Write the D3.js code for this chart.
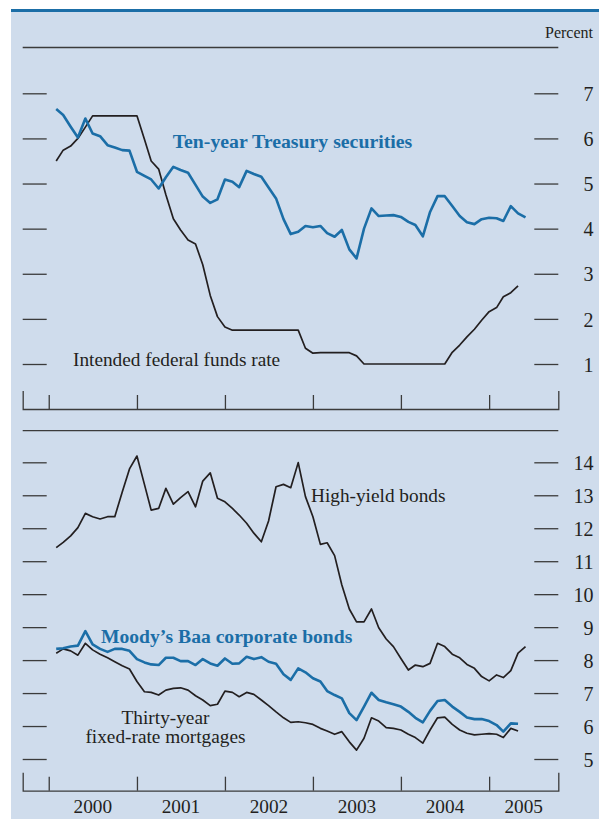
<!DOCTYPE html>
<html>
<head>
<meta charset="utf-8">
<script src="https://cdn.jsdelivr.net/npm/d3@7"></script>
<style>
  html, body { margin: 0; padding: 0; background: #fff; }
  svg { display: block; }
</style>
</head>
<body>
<div id="chart"></div>
<script>
// monthly averages, first value = Jan 2000, plotted at month end
const years = [2000, 2001, 2002, 2003, 2004, 2005];
const topTicks = [1, 2, 3, 4, 5, 6, 7];
const bottomTicks = [5, 6, 7, 8, 9, 10, 11, 12, 13, 14];

const treasury = [
  6.65, 6.52, 6.26, 6.02, 6.44, 6.11, 6.05, 5.85, 5.80, 5.74, 5.73, 5.26,
  5.17, 5.09, 4.89, 5.14, 5.37, 5.30, 5.24, 4.97, 4.71, 4.57, 4.65, 5.09,
  5.04, 4.92, 5.28, 5.21, 5.15, 4.91, 4.67, 4.21, 3.88, 3.93, 4.06, 4.03,
  4.06, 3.90, 3.82, 3.97, 3.54, 3.34, 4.00, 4.45, 4.28, 4.29, 4.30, 4.26,
  4.15, 4.08, 3.83, 4.37, 4.72, 4.72, 4.50, 4.28, 4.14, 4.10, 4.21, 4.24,
  4.23, 4.17, 4.50, 4.34, 4.25
];
const fedFunds = [
  5.50, 5.74, 5.83, 6.00, 6.25, 6.50, 6.50, 6.50, 6.50, 6.50, 6.50, 6.50,
  5.98, 5.50, 5.32, 4.75, 4.22, 3.97, 3.75, 3.66, 3.20, 2.52, 2.05, 1.82,
  1.75, 1.75, 1.75, 1.75, 1.75, 1.75, 1.75, 1.75, 1.75, 1.75, 1.35, 1.24,
  1.25, 1.25, 1.25, 1.25, 1.25, 1.18, 1.00, 1.00, 1.00, 1.00, 1.00, 1.00,
  1.00, 1.00, 1.00, 1.00, 1.00, 1.00, 1.26, 1.42, 1.60, 1.77, 1.97, 2.16,
  2.25, 2.49, 2.58, 2.73
];
const highYield = [
  11.41, 11.57, 11.77, 12.02, 12.45, 12.35, 12.28, 12.35, 12.35, 13.10, 13.80, 14.19,
  13.33, 12.55, 12.60, 13.21, 12.73, 12.93, 13.11, 12.65, 13.43, 13.68, 12.91, 12.80,
  12.60, 12.40, 12.15, 11.85, 11.59, 12.22, 13.26, 13.33, 13.23, 13.99, 12.96, 12.35,
  11.51, 11.56, 11.17, 10.28, 9.55, 9.16, 9.16, 9.55, 8.98, 8.64, 8.41, 8.05,
  7.70, 7.85, 7.80, 7.90, 8.51, 8.41, 8.18, 8.07, 7.87, 7.75, 7.50, 7.37,
  7.55, 7.47, 7.68, 8.21, 8.41
];
const baa = [
  8.34, 8.36, 8.41, 8.44, 8.88, 8.48, 8.34, 8.25, 8.34, 8.34, 8.28, 8.03,
  7.93, 7.87, 7.85, 8.07, 8.07, 7.97, 7.97, 7.85, 8.03, 7.90, 7.83, 8.05,
  7.89, 7.90, 8.10, 8.03, 8.09, 7.95, 7.89, 7.57, 7.40, 7.75, 7.63, 7.45,
  7.35, 7.06, 6.94, 6.84, 6.39, 6.18, 6.59, 7.01, 6.79, 6.72, 6.66, 6.59,
  6.43, 6.25, 6.11, 6.46, 6.76, 6.79, 6.59, 6.43, 6.26, 6.21, 6.21, 6.15,
  6.03, 5.83, 6.08, 6.07
];
const mortgage = [
  8.21, 8.34, 8.28, 8.15, 8.51, 8.31, 8.18, 8.07, 7.95, 7.83, 7.73, 7.35,
  7.04, 7.02, 6.94, 7.09, 7.14, 7.16, 7.09, 6.92, 6.79, 6.62, 6.66, 7.06,
  7.02, 6.89, 7.02, 6.96, 6.79, 6.62, 6.43, 6.25, 6.11, 6.13, 6.10, 6.05,
  5.93, 5.85, 5.75, 5.83, 5.52, 5.27, 5.63, 6.25, 6.15, 5.95, 5.93, 5.88,
  5.75, 5.65, 5.48, 5.88, 6.25, 6.27, 6.05, 5.88, 5.78, 5.73, 5.75, 5.77,
  5.75, 5.65, 5.93, 5.85
];

const width = 599, height = 819;
const blue = '#1b6ea7', ink = '#231f20', axisInk = '#3b3b3b', bg = '#cfdcec';
const serif = '"Liberation Serif", "Times New Roman", serif';
const left = 22.7, right = 558.3;

let monthEnd = i => new Date(2000, i + 1, 1);

let svg = d3.select('#chart')
            .append('svg')
            .attr('width', width)
            .attr('height', height);

svg.append('rect')
   .attr('x', 11).attr('y', 9)
   .attr('width', width - 11).attr('height', height - 9)
   .attr('fill', bg);
svg.append('rect')
   .attr('x', 11).attr('y', 9)
   .attr('width', width - 11).attr('height', 3)
   .attr('fill', blue);

let x = d3.scaleTime()
          .domain([new Date(1999, 8, 15), new Date(2005, 9, 15)])
          .range([left, right]);

let yTop = d3.scaleLinear().domain([1, 7]).range([364, 93.3]);
let yBot = d3.scaleLinear().domain([5, 14]).range([759, 462.3]);

function panel(y, ticks, top, bottom, showYears){
  // rule at the top of the panel
  svg.append('line')
     .attr('x1', left).attr('x2', right)
     .attr('y1', top).attr('y2', top)
     .attr('stroke', axisInk).attr('stroke-width', 1.3);

  // left ticks, no labels
  svg.append('g')
     .attr('transform', `translate(${left},0)`)
     .call(d3.axisRight(y).tickValues(ticks).tickSize(24).tickFormat(''))
     .call(g => g.select('.domain').remove())
     .call(g => g.selectAll('.tick line').attr('stroke', axisInk).attr('stroke-width', 1.3));

  // right ticks with labels
  svg.append('g')
     .attr('transform', `translate(${right - 24},0)`)
     .call(d3.axisRight(y).tickValues(ticks).tickSize(24).tickFormat(d3.format('d')))
     .call(g => g.select('.domain').remove())
     .call(g => g.selectAll('.tick line').attr('stroke', axisInk).attr('stroke-width', 1.3))
     .call(g => g.selectAll('.tick text')
                 .attr('x', 593.5 - (right - 24))
                 .attr('dy', '0.36em')
                 .attr('text-anchor', 'end')
                 .attr('fill', ink)
                 .attr('font-size', 20)
                 .attr('font-family', serif));

  // year ticks along the bottom
  svg.append('g')
     .attr('transform', `translate(0,${bottom})`)
     .call(d3.axisBottom(x)
             .tickValues(years.map(d => new Date(d, 0, 1)))
             .tickSize(-14)
             .tickSizeOuter(-18)
             .tickFormat(''))
     .call(g => g.select('.domain').attr('stroke', axisInk).attr('stroke-width', 1.3))
     .call(g => g.selectAll('.tick line').attr('stroke', axisInk).attr('stroke-width', 1.3));

  if(showYears){
    svg.append('g')
       .selectAll('text')
       .data(years)
       .enter().append('text')
               .attr('x', d => (x(new Date(d, 0, 1)) + Math.min(x(new Date(d + 1, 0, 1)), right)) / 2)
               .attr('y', 813.3)
               .attr('text-anchor', 'middle')
               .attr('font-family', serif)
               .attr('font-size', 19.3)
               .attr('fill', ink)
               .text(d => d);
  }
}

panel(yTop, topTicks, 47.5, 409, false);
panel(yBot, bottomTicks, 430.7, 790.7, true);

function series(values, y, color, w){
  let line = d3.line()
               .x((d, i) => x(monthEnd(i)))
               .y(d => y(d));
  svg.append('path')
     .attr('d', line(values))
     .attr('fill', 'none')
     .attr('stroke', color)
     .attr('stroke-width', w)
     .attr('stroke-linejoin', 'round')
     .attr('stroke-linecap', 'butt');
}

series(fedFunds, yTop, ink, 1.7);
series(treasury, yTop, blue, 2.6);
series(highYield, yBot, ink, 1.7);
series(mortgage, yBot, ink, 1.7);
series(baa, yBot, blue, 2.6);

function label(txt, lx, ly, opts = {}){
  svg.append('text')
     .attr('x', lx).attr('y', ly)
     .attr('text-anchor', opts.anchor || 'start')
     .attr('font-family', serif)
     .attr('font-size', opts.size || 19.3)
     .attr('font-weight', opts.bold ? 'bold' : 'normal')
     .attr('fill', opts.color || ink)
     .text(txt);
}

label('Percent', 593, 37.7, {anchor: 'end', size: 16});
label('Ten-year Treasury securities', 172.7, 148, {bold: true, color: blue, size: 19.8});
label('Intended federal funds rate', 73, 365.7);
label('High-yield bonds', 311, 501.5);
label('Moody\u2019s Baa corporate bonds', 101, 643.3, {bold: true, color: blue, size: 19.6});
label('Thirty-year', 165.5, 724, {anchor: 'middle'});
label('fixed-rate mortgages', 165.5, 743.3, {anchor: 'middle'});
</script>
</body>
</html>
